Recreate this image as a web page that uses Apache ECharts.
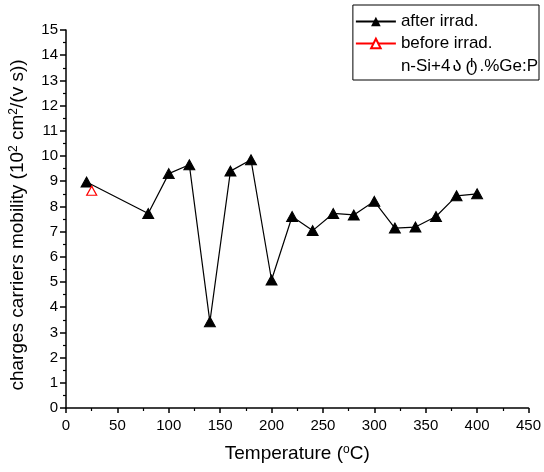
<!DOCTYPE html>
<html>
<head>
<meta charset="utf-8">
<script src="https://cdn.jsdelivr.net/npm/echarts@6/dist/echarts.min.js"></script>
<style>
html,body{margin:0;padding:0;background:#fff;}
#chart{width:544px;height:472px;}
</style>
</head>
<body>
<div id="chart"></div>
<script>
const afterX = [20, 80, 100, 120, 140, 160, 180, 200, 220, 240, 260, 280, 300, 320, 340, 360, 380, 400];
const afterY = [8.97, 7.72, 9.3, 9.65, 3.42, 9.4, 9.85, 5.08, 7.6, 7.04, 7.72, 7.66, 8.2, 7.14, 7.18, 7.6, 8.42, 8.5];
const beforeX = [25];
const beforeY = [8.62];
const seriesNames = ['after irrad.', 'before irrad.', 'n-Si+4ატ.%Ge:P'];
const xTitle = 'Temperature ({sup|o}C)';
const yTitle = 'charges carriers mobility (10{sup|2} cm{sup|2}/(v s))';

const font = 'Liberation Sans, Arial, sans-serif';
const chart = echarts.init(document.getElementById('chart'));
chart.setOption({
  animation: false,
  backgroundColor: '#fff',
  grid: {left: 66, right: 14, top: 30, bottom: 64},
  graphic: [{
    type: 'text',
    x: 18, y: 225,
    rotation: Math.PI / 2,
    style: {
      text: yTitle,
      fontFamily: font, fontSize: 19, fill: '#000',
      align: 'center', verticalAlign: 'middle',
      rich: {sup: {fontFamily: font, fontSize: 12, fill: '#000', verticalAlign: 'top', padding: [0, 0, 8, 0]}}
    }
  }],
  legend: {
    orient: 'vertical',
    right: 5,
    top: 5,
    padding: [8, 1, 5, 2],
    itemGap: 5,
    itemWidth: 40,
    itemHeight: 12,
    borderColor: '#000',
    borderWidth: 1,
    borderRadius: 0,
    formatter: function (name) {
      return name === seriesNames[2] ? name.replace('ატ', '{g|ა}{g|ტ}') : name;
    },
    textStyle: {
      fontFamily: font, fontSize: 17, color: '#000',
      rich: {g: {fontFamily: 'DejaVu Sans', fontSize: 18, color: '#000', padding: [0, 2, 0, 2]}}
    },
    data: [
      {name: seriesNames[0]},
      {name: seriesNames[1]},
      {name: seriesNames[2], itemStyle: {opacity: 0}, lineStyle: {opacity: 0}}
    ]
  },
  xAxis: {
    type: 'value',
    min: 0, max: 450, interval: 50,
    name: xTitle,
    nameLocation: 'middle',
    nameGap: 36,
    nameTextStyle: {
      fontFamily: font, fontSize: 19, color: '#000',
      rich: {sup: {fontFamily: font, fontSize: 12, color: '#000', verticalAlign: 'top', padding: [0, 0, 8, 0]}}
    },
    axisLine: {lineStyle: {color: '#000', width: 1.5}},
    axisTick: {show: true, inside: false, length: 5, lineStyle: {color: '#000', width: 1.5}},
    minorTick: {show: true, splitNumber: 2, length: 3, lineStyle: {color: '#000', width: 1.2}},
    axisLabel: {fontFamily: font, fontSize: 15, color: '#000', margin: 10},
    splitLine: {show: false}
  },
  yAxis: {
    type: 'value',
    min: 0, max: 15, interval: 1,
    axisLine: {show: true, lineStyle: {color: '#000', width: 1.5}},
    axisTick: {show: true, inside: false, length: 6, lineStyle: {color: '#000', width: 1.5}},
    minorTick: {show: true, splitNumber: 2, length: 3, lineStyle: {color: '#000', width: 1.2}},
    axisLabel: {fontFamily: font, fontSize: 15, color: '#000', margin: 8},
    splitLine: {show: false}
  },
  series: [
    {
      name: seriesNames[0],
      type: 'line',
      data: afterX.map((x, i) => [x, afterY[i]]),
      symbol: 'triangle',
      symbolSize: [11, 10],
      lineStyle: {color: '#000', width: 1.2},
      itemStyle: {color: '#000', borderColor: '#000'},
      z: 3
    },
    {
      name: seriesNames[1],
      type: 'line',
      data: beforeX.map((x, i) => [x, beforeY[i]]),
      symbol: 'triangle',
      symbolSize: [10, 9],
      lineStyle: {color: '#ff0000', width: 1},
      itemStyle: {color: '#fff', borderColor: '#ff0000', borderWidth: 1.2},
      z: 4
    },
    {
      name: seriesNames[2],
      type: 'line',
      data: [],
      symbol: 'none',
      lineStyle: {opacity: 0}
    }
  ]
});
</script>
</body>
</html>
